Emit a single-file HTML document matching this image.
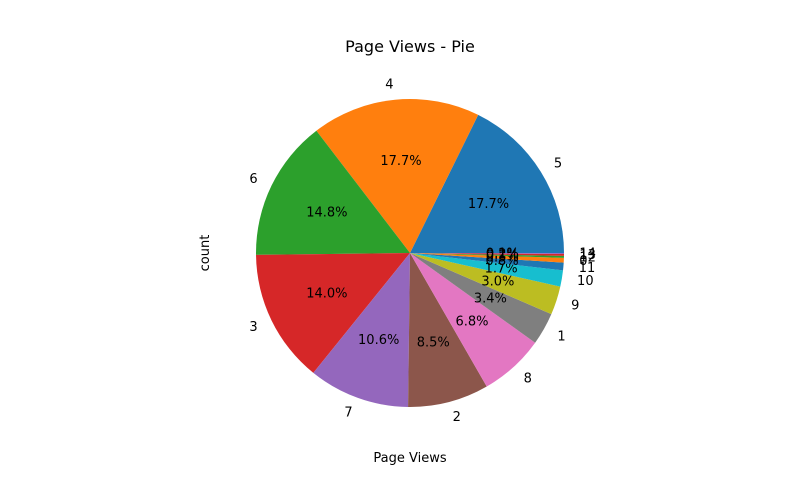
<!DOCTYPE html>
<html><head><meta charset="utf-8"><style>body{margin:0;background:#fff}svg{display:block;font-family:"DejaVu Sans","Liberation Sans",sans-serif}</style></head>
<body>
<svg id="chart" width="800" height="500" viewBox="0 0 800 500">
<rect width="800" height="500" fill="#fff"/>
<text x="410" y="52" text-anchor="middle" font-size="16">Page Views - Pie</text>
<text x="410" y="462" text-anchor="middle" font-size="13">Page Views</text>
<text transform="translate(209,253) rotate(-90)" text-anchor="middle" font-size="13">count</text>
<g id="slices"></g>
</svg>
<script>
const categories = ["5","4","6","3","7","2","8","1","9","10","11","0","12","13","14"];
const values = [17.7,17.7,14.8,14.0,10.6,8.5,6.8,3.4,3.0,1.7,0.8,0.5,0.2,0.2,0.1];
const colors = ["#1f77b4","#ff7f0e","#2ca02c","#d62728","#9467bd","#8c564b","#e377c2","#7f7f7f","#bcbd22","#17becf"];
const cx=410, cy=253, r=154;
const g=document.getElementById('slices');
const NS='http://www.w3.org/2000/svg';
const total=values.reduce((a,b)=>a+b,0);
let a0=0;
values.forEach((v,i)=>{
  const a1=a0+v/total*2*Math.PI;
  const x0=cx+r*Math.cos(a0), y0=cy-r*Math.sin(a0);
  const x1=cx+r*Math.cos(a1), y1=cy-r*Math.sin(a1);
  const large=(a1-a0)>Math.PI?1:0;
  const p=document.createElementNS(NS,'path');
  p.setAttribute('d',`M${cx},${cy} L${x0},${y0} A${r},${r} 0 ${large} 0 ${x1},${y1} Z`);
  p.setAttribute('fill',colors[i%10]);
  
  
  g.appendChild(p);
  const am=(a0+a1)/2;
  const lx=cx+1.1*r*Math.cos(am), ly=cy-1.1*r*Math.sin(am);
  const t=document.createElementNS(NS,'text');
  t.setAttribute('x',lx);t.setAttribute('y',ly+4);
  t.setAttribute('font-size','13');
  t.setAttribute('text-anchor',Math.cos(am)>=0?'start':'end');
  t.textContent=categories[i];
  
  
  g.appendChild(t);
  const px=cx+0.6*r*Math.cos(am), py=cy-0.6*r*Math.sin(am);
  const q=document.createElementNS(NS,'text');
  q.setAttribute('x',px);q.setAttribute('y',py+4);
  q.setAttribute('font-size','13');
  q.setAttribute('text-anchor','middle');
  q.textContent=v.toFixed(1)+'%';
  
  
  g.appendChild(q);
  a0=a1;
});
</script>
</body></html>
